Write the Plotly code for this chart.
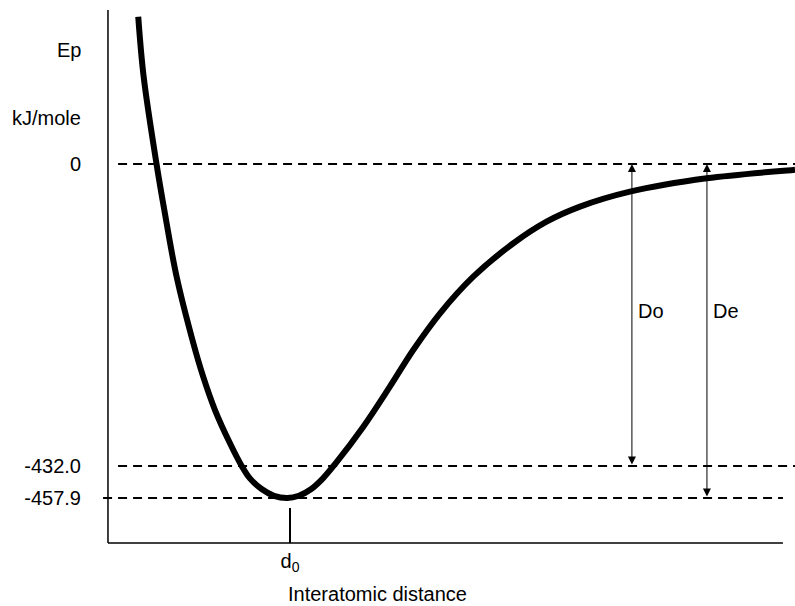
import plotly.graph_objects as go

# Potential energy curve (schematic, H2 molecule)
distance_pm = [12.3, 14.5, 19.8, 22.9, 27.9, 34.7, 38.7, 43.5, 49.6, 54.3, 57.7, 62.6, 67.5,
               72.8, 77.6, 82.5, 87.4, 92.3, 103.8, 114.6, 124.1, 135.0, 148.5, 164.8, 178.3,
               191.9, 212.2, 243.4, 278.6, 279.3]
energy_kj = [201.9, 119.7, -1.4, -63.1, -154.5, -245.8, -291.6, -337.3, -382.9, -413.6, -431.0, -446.0, -454.9,
             -457.9, -454.9, -446.0, -431.0, -411.5, -360.2, -305.3, -255.0, -204.7, -154.5, -108.7, -79.1,
             -58.5, -38.0, -19.6, -8.2, -8.0]

# Energy levels (drawn heights on the schematic scale) and their labels
level_labels = ["0", "-432.0", "-457.9"]
level_positions = [0.0, -414.0, -457.9]

d0_pm = [74]
d0_labels = ["d<sub>0</sub>"]

arrow_names = ["Do", "De"]
arrow_x = [213.0, 243.5]
arrow_bottom = [-414.0, -457.9]

X_RANGE = [-43.9, 279.3]
Y_RANGE = [-606.0, 224.8]
W, H = 795, 606
FONT = "Liberation Sans, Arial, Helvetica, sans-serif"

fig = go.Figure()
fig.add_trace(go.Scatter(
    x=distance_pm, y=energy_kj, mode="lines",
    line=dict(color="black", width=6, shape="spline", smoothing=1.0),
    hoverinfo="skip", showlegend=False))

# dashed energy levels
level_x0 = [4.1, 4.1, -2.0]
level_x1 = [279.3, 279.3, 274.4]
for yv, x0, x1 in zip(level_positions, level_x0, level_x1):
    fig.add_shape(type="line", xref="x", yref="y", x0=x0, x1=x1, y0=yv, y1=yv,
                  line=dict(color="black", width=2, dash="9px,6px"), layer="below")

# axis lines
Y_TOP, Y_BOT, X_END = 211.1, -519.6, 274.4
fig.add_shape(type="line", xref="x", yref="y", x0=0, x1=0, y0=Y_TOP, y1=Y_BOT,
              line=dict(color="black", width=1.5))
fig.add_shape(type="line", xref="x", yref="y", x0=0, x1=X_END, y0=Y_BOT, y1=Y_BOT,
              line=dict(color="black", width=1.5))

# double-headed arrows Do and De
for name, xa, yb in zip(arrow_names, arrow_x, arrow_bottom):
    fig.add_annotation(x=xa, y=0, ax=xa, ay=yb, xref="x", yref="y", axref="x", ayref="y",
                       text="", showarrow=True, arrowhead=2, startarrowhead=2,
                       arrowside="end+start", arrowsize=1.6, startarrowsize=1.6,
                       arrowwidth=1, arrowcolor="black", standoff=0, startstandoff=0)
    fig.add_annotation(x=xa, y=-201.5, xref="x", yref="y", text=name, showarrow=False,
                       xanchor="left", yanchor="middle", xshift=4,
                       font=dict(size=20, color="black", family=FONT))

# axis captions
fig.add_annotation(x=83 / W, y=1 - 50 / H, xref="paper", yref="paper", text="Ep",
                   showarrow=False, xanchor="right", yanchor="middle")
fig.add_annotation(x=83 / W, y=1 - 118 / H, xref="paper", yref="paper", text="kJ/mole",
                   showarrow=False, xanchor="right", yanchor="middle")
fig.add_annotation(x=377 / W, y=0, xref="paper", yref="paper",
                   text="Interatomic distance", showarrow=False,
                   xanchor="center", yanchor="bottom", borderpad=0)

fig.update_layout(
    width=W, height=H,
    margin=dict(l=0, r=0, t=0, b=0),
    paper_bgcolor="white", plot_bgcolor="white",
    font=dict(family=FONT, size=20, color="black"),
    showlegend=False,
    xaxis=dict(range=X_RANGE, domain=[0, 1], anchor="free", position=63 / H,
               showgrid=False, zeroline=False, showline=False,
               tickmode="array", tickvals=d0_pm, ticktext=d0_labels,
               ticks="inside", ticklen=35, tickwidth=2, tickcolor="black",
               ticklabelstandoff=4),
    yaxis=dict(range=Y_RANGE, domain=[0, 1], anchor="free", position=108 / W,
               showgrid=False, zeroline=False, showline=False,
               tickmode="array", tickvals=level_positions, ticktext=level_labels,
               ticks="", ticklabelstandoff=27),
)

fig.write_html("out.html", config={"displayModeBar": False},
               post_script="document.body.style.margin='0px';document.body.style.overflow='hidden';")
